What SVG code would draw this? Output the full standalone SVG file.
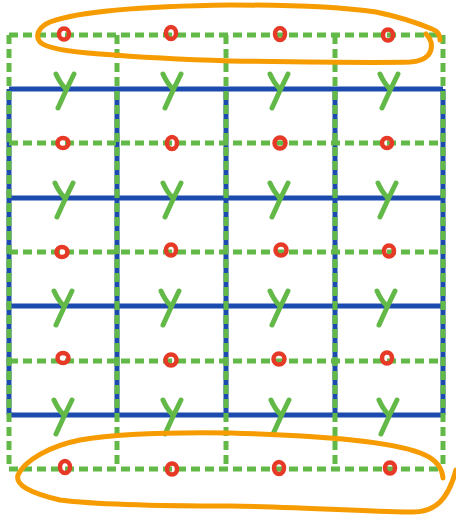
<svg xmlns="http://www.w3.org/2000/svg" width="456" height="519" viewBox="0 0 456 519">
<style>
.bl{stroke:#1c4aae;stroke-width:5;fill:none}
.gd{stroke:#63b947;stroke-width:5;stroke-dasharray:9 5;fill:none}
.o{fill:none;stroke:#e63a26;stroke-width:4.5}
.y{fill:none;stroke:#63b947;stroke-width:5;stroke-linecap:round}
.or{fill:none;stroke:#f69c00;stroke-width:5;stroke-linecap:round}
</style>
<defs>
<g id="Y"><path class="y" d="M-8,-15 Q-4,-6 1,-1"/><path class="y" d="M10,-15 Q2,1 -6,19"/></g>
</defs>
<rect width="456" height="519" fill="#fff"/>
<g id="connectors">
<path class="bl" d="M9,89H443M9,198H443M9,306H443M9,415H443M9,89V415M117,89V415M226,89V415M335,89V415M443,89V415"/>
<path class="gd" d="M9,35H443M9,143H443M9,252H443M9,361H443M9,469H443"/>
<path class="gd" d="M9,35V469M117,35V469M226,35V469M335,35V469M443,35V469"/>
</g>
<g id="circles">
<ellipse class="o" cx="64" cy="34" rx="5" ry="5.5"/><ellipse class="o" cx="171" cy="33" rx="5" ry="6"/><ellipse class="o" cx="280" cy="34" rx="5" ry="6"/><ellipse class="o" cx="388" cy="35" rx="5" ry="5.5"/>
<ellipse class="o" cx="63" cy="143" rx="5.5" ry="5"/><ellipse class="o" cx="172" cy="143" rx="5" ry="6"/><ellipse class="o" cx="280" cy="143" rx="5.5" ry="5.5"/><ellipse class="o" cx="387" cy="143" rx="5" ry="5"/>
<ellipse class="o" cx="62" cy="252" rx="5.5" ry="5"/><ellipse class="o" cx="171" cy="250" rx="5" ry="5.5"/><ellipse class="o" cx="281" cy="250" rx="5.5" ry="5.5"/><ellipse class="o" cx="389" cy="251" rx="5" ry="5.5"/>
<ellipse class="o" cx="63" cy="358" rx="5.5" ry="5"/><ellipse class="o" cx="171" cy="360" rx="5.5" ry="5.5"/><ellipse class="o" cx="279" cy="359" rx="5.5" ry="5.5"/><ellipse class="o" cx="387" cy="358" rx="5" ry="5.5"/>
<ellipse class="o" cx="65" cy="467" rx="5" ry="6"/><ellipse class="o" cx="172" cy="469" rx="5" ry="5.5"/><ellipse class="o" cx="279" cy="468" rx="5" ry="6"/><ellipse class="o" cx="390" cy="468" rx="5" ry="5.5"/>
</g>
<g id="ys">
<use href="#Y" x="64" y="89"/><use href="#Y" x="171" y="89"/><use href="#Y" x="278" y="89"/><use href="#Y" x="388" y="89"/>
<use href="#Y" x="63" y="198"/><use href="#Y" x="171" y="198"/><use href="#Y" x="278" y="198"/><use href="#Y" x="386" y="198"/>
<use href="#Y" x="62" y="306"/><use href="#Y" x="169" y="306"/><use href="#Y" x="278" y="306"/><use href="#Y" x="385" y="306"/>
<use href="#Y" x="62" y="415"/><use href="#Y" x="171" y="415"/><use href="#Y" x="279" y="415"/><use href="#Y" x="387" y="415"/>
</g>
<g id="loop-top">
<path class="or" d="M440,40 C440,35 438,31 432,29 C420,24 400,17 376,12 C340,7 290,5 230,5 C150,6 80,11 50,22 C38,27 35,36 40,42 C46,48 70,52 100,54 C150,58 200,60 230,61 C300,62 380,63 410,62 C428,61 433,52 431,42 C430,38 428,36 426,34"/>
</g>
<g id="loop-bottom">
<path class="or" d="M443,478 C442,468 436,460 425,455 C400,443 340,436 230,433 C160,432 110,435 80,440 C50,446 25,460 18,475 C15,485 30,493 60,500 C100,505 170,506 230,506 C300,507 380,512 413,512 C435,512 448,500 456,470"/>
</g>
</svg>
